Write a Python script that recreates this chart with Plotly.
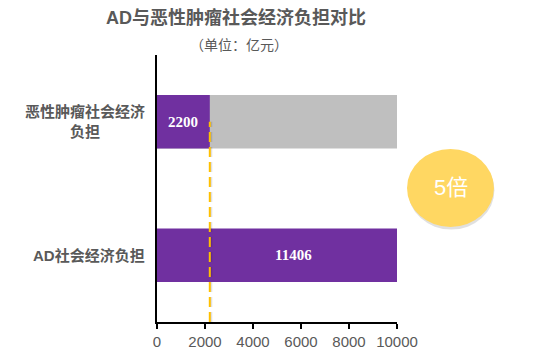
import plotly.graph_objects as go

categories = ["AD社会经济负担", "恶性肿瘤社会经济负担"]
category_labels = ["AD社会经济负担", "恶性肿瘤社会经济<br>负担"]
values = [11406, 2200]
background_values = [None, 10000]
reference_value = 2200
x_ticks = [0, 2000, 4000, 6000, 8000, 10000]
x_tick_labels = ["0", "2000", "4000", "6000", "8000", "10000"]
ratio_text = "5倍"
title_text = "AD与恶性肿瘤社会经济负担对比"
subtitle_text = "（单位：亿元）"

CJK = "Liberation Sans, Noto Sans CJK SC"
GRAY = "#595959"

fig = go.Figure()
fig.add_trace(go.Bar(y=categories, x=background_values, orientation="h",
                     marker=dict(color="#BFBFBF", line=dict(width=0)),
                     width=0.4, hoverinfo="skip"))
fig.add_trace(go.Bar(y=categories, x=values, orientation="h",
                     marker=dict(color="#7030A0", line=dict(width=0)),
                     width=0.4))

annotations = []
for cat, lab in zip(categories, category_labels):
    annotations.append(dict(x=-0.042, xref="paper", y=cat, yref="y", text="<b>" + lab + "</b>",
                            showarrow=False, xanchor="right", yanchor="middle",
                            align="center",
                            font=dict(family=CJK, size=15, color=GRAY)))
for cat, v in zip(categories, values):
    annotations.append(dict(x=v / 2, xref="x", y=cat, yref="y", text="<b>%d</b>" % v,
                            showarrow=False, xanchor="center", yanchor="middle",
                            font=dict(family="Liberation Serif, Times New Roman", size=15,
                                      color="white")))
annotations.append(dict(x=0.329, xref="paper", y=1.139, yref="paper",
                        text="<b>" + title_text + "</b>", showarrow=False,
                        xanchor="center", yanchor="middle",
                        font=dict(family=CJK, size=18, color=GRAY)))
annotations.append(dict(x=0.342, xref="paper", y=1.037, yref="paper",
                        text=subtitle_text, showarrow=False,
                        xanchor="center", yanchor="middle",
                        font=dict(family=CJK, size=14, color=GRAY)))
annotations.append(dict(x=1.223, xref="paper", y=0.505, yref="paper",
                        text=ratio_text, showarrow=False,
                        xanchor="center", yanchor="middle",
                        font=dict(family=CJK, size=22, color="white")))

shapes = [
    dict(type="circle", xref="paper", yref="paper", x0=1.046, x1=1.406,
         y0=0.346, y1=0.64, fillcolor="rgba(0,0,0,0.12)", line=dict(width=0),
         layer="above"),
    dict(type="circle", xref="paper", yref="paper", x0=1.0417, x1=1.404,
         y0=0.356, y1=0.648, fillcolor="#FFD762", line=dict(width=0),
         layer="above"),
    dict(type="line", xref="x", yref="y", x0=reference_value + 40, x1=reference_value + 40,
         y0=-0.5, y1=1.0, line=dict(color="rgba(0,0,0,0.12)", width=3, dash="10px,5px"),
         layer="above"),
    dict(type="line", xref="x", yref="y", x0=reference_value, x1=reference_value,
         y0=-0.5, y1=1.0, line=dict(color="#FFC000", width=2, dash="10px,5px"),
         layer="above"),
]

fig.update_layout(
    width=534, height=361,
    margin=dict(l=157, r=137, t=55, b=39),
    barmode="overlay",
    showlegend=False,
    plot_bgcolor="white", paper_bgcolor="white",
    font=dict(family=CJK, color=GRAY),
    annotations=annotations,
    shapes=shapes,
    xaxis=dict(range=[0, 10000], tickvals=x_ticks, ticktext=x_tick_labels,
               showgrid=False, zeroline=False,
               showline=True, linecolor="black", linewidth=2,
               ticks="outside", ticklen=5, tickwidth=2, tickcolor="black",
               tickfont=dict(family="Liberation Sans, Arial", size=15, color=GRAY)),
    yaxis=dict(categoryorder="array", categoryarray=categories, range=[-0.5, 1.5],
               showticklabels=False, showgrid=False, zeroline=False,
               showline=True, linecolor="black", linewidth=2, ticks=""),
)

fig.write_html("out.html", config={"displayModeBar": False},
               post_script="document.body.style.margin='0';")
